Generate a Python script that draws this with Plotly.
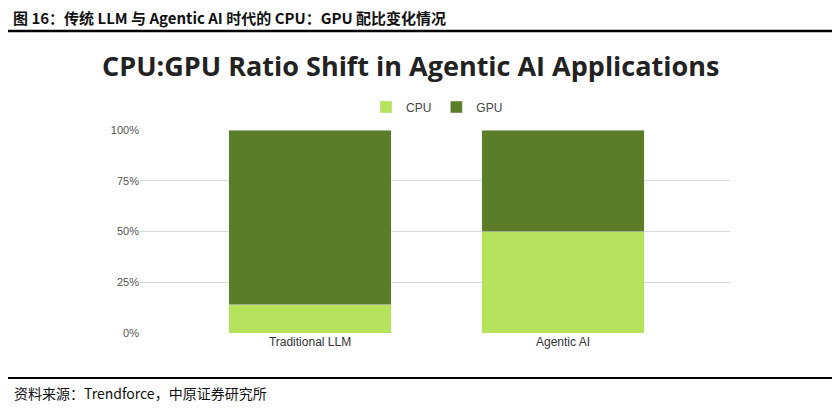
import plotly.graph_objects as go

categories = ["Traditional LLM", "Agentic AI"]
cpu = [14, 50]
gpu = [86, 50]
yticks = [0, 25, 50, 75, 100]
yticklabels = ["0%", "25%", "50%", "75%", "100%"]

H = 408
W = 840
OFF = 8
def py(px): return 1 - (px - OFF) / H
def px_(x): return (x - OFF) / W

fig = go.Figure()
fig.add_bar(name="CPU", x=categories, y=cpu, marker_color="#b6e25c", width=0.644)
fig.add_bar(name="GPU", x=categories, y=gpu, marker_color="#5c7d28", width=0.644)
fig.update_layout(
    barmode="stack", width=W, height=H,
    margin=dict(l=0, r=0, t=0, b=0, autoexpand=False),
    plot_bgcolor="white", paper_bgcolor="white",
    font=dict(family="Liberation Sans", size=12, color="#444"),
    xaxis=dict(domain=[px_(140), px_(730)], range=[-0.672, 1.66], showline=False, ticks="",
               automargin=False, tickfont=dict(size=12, color="#333")),
    yaxis=dict(domain=[py(333), py(130)], range=[0, 100], tickvals=yticks, ticktext=yticklabels,
               automargin=False, gridcolor="#d9d9d9", zeroline=False,
               tickfont=dict(size=11, color="#555")),
    legend=dict(orientation="h", x=px_(437), xanchor="center", y=py(107), yanchor="middle",
                font=dict(size=12, color="#444"), itemwidth=30, traceorder="normal"),
    showlegend=True,
)
fig.add_annotation(text="<b>图 16：传统 LLM 与 Agentic AI 时代的 CPU：GPU 配比变化情况</b>",
                   xref="paper", yref="paper", x=px_(12), y=py(17), xanchor="left", yanchor="middle",
                   borderpad=0, showarrow=False,
                   font=dict(family="Noto Sans CJK SC", size=15, color="#111"))
fig.add_annotation(text="<b>CPU:GPU Ratio Shift in Agentic AI Applications</b>",
                   xref="paper", yref="paper", x=px_(410), y=py(66), xanchor="center", yanchor="middle",
                   showarrow=False, font=dict(family="Open Sans", size=27, color="#222"))
fig.add_annotation(text="资料来源：Trendforce，中原证券研究所",
                   xref="paper", yref="paper", x=px_(12), y=py(393), xanchor="left", yanchor="middle",
                   showarrow=False, font=dict(family="Noto Sans CJK SC", size=14, color="#111"))
fig.add_shape(type="line", xref="paper", yref="paper", x0=px_(8), x1=px_(835), y0=py(31), y1=py(31),
              line=dict(color="black", width=2.5))
fig.add_shape(type="line", xref="paper", yref="paper", x0=px_(8), x1=px_(835), y0=py(378), y1=py(378),
              line=dict(color="black", width=2))
fig.write_html("out.html")
